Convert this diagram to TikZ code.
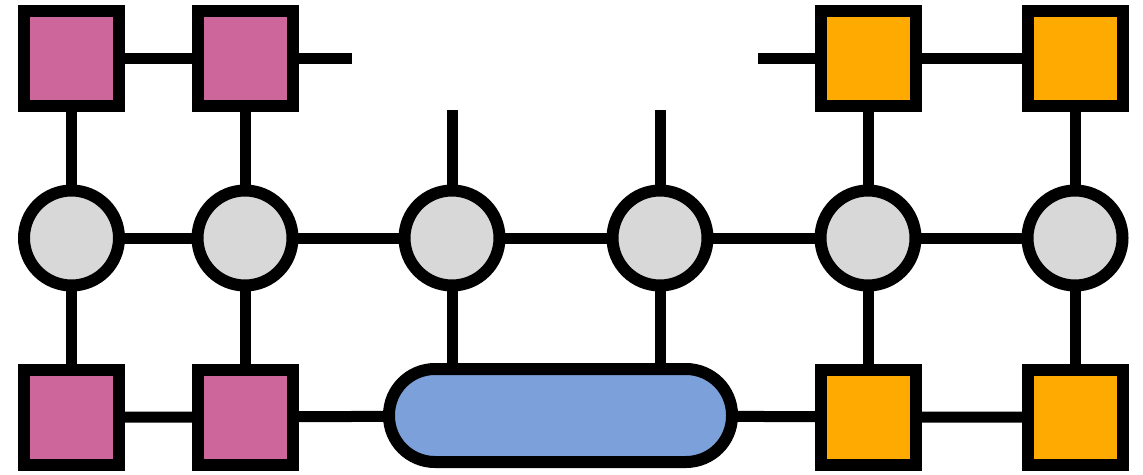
\documentclass[tikz,border=0pt]{standalone}
\usetikzlibrary{backgrounds}
\definecolor{pinkfill}{RGB}{204,102,155}
\definecolor{orangefill}{RGB}{255,170,0}
\definecolor{bluefill}{RGB}{124,160,218}
\definecolor{grayfill}{RGB}{216,216,216}
\begin{document}
\begin{tikzpicture}[x=1pt,y=-1pt,
  box/.style={draw=black,line width=12pt,minimum size=95pt,inner sep=0pt,rectangle},
  pinkbox/.style={box,fill=pinkfill},
  orangebox/.style={box,fill=orangefill},
  site/.style={draw=black,line width=12pt,circle,minimum size=95pt,inner sep=0pt,fill=grayfill},
  pill/.style={draw=black,line width=12pt,fill=bluefill,rectangle,rounded corners=46pt,minimum width=343pt,minimum height=93pt,inner sep=0pt},
  bond/.style={draw=black,line width=11pt}]
\useasboundingbox (0,0) rectangle (1143,474);
% top row
\node[pinkbox] (pt1) at (71.5,58) {};
\node[pinkbox] (pt2) at (245,58) {};
\node[orangebox] (ot1) at (868,58) {};
\node[orangebox] (ot2) at (1075,58) {};
% middle row
\node[site] (c1) at (71.5,238) {};
\node[site] (c2) at (245,238) {};
\node[site] (c3) at (452,238) {};
\node[site] (c4) at (660,238) {};
\node[site] (c5) at (868,238) {};
\node[site] (c6) at (1075,238) {};
% bottom row
\node[pinkbox] (pb1) at (71.5,417) {};
\node[pinkbox] (pb2) at (245,417) {};
\node[pill] (op) at (560.5,415.5) {};
\node[orangebox] (ob1) at (868,417) {};
\node[orangebox] (ob2) at (1075,417) {};
% open legs
\coordinate (lr) at (352,58);
\coordinate (ll) at (758,58);
\coordinate (u3) at (452,110);
\coordinate (u4) at (660,110);
\begin{scope}[on background layer]
  \draw[bond] (pt1.center) -- (pt2.center) -- (lr);
  \draw[bond] (ll) -- (ot1.center) -- (ot2.center);
  \draw[bond] (c1.center) -- (c2.center) -- (c3.center) -- (c4.center) -- (c5.center) -- (c6.center);
  \draw[bond] (pb1.center) -- (pb2.center) -- (op.center) -- (ob1.center) -- (ob2.center);
  \draw[bond] (pt1.center) -- (c1.center) -- (pb1.center);
  \draw[bond] (pt2.center) -- (c2.center) -- (pb2.center);
  \draw[bond] (ot1.center) -- (c5.center) -- (ob1.center);
  \draw[bond] (ot2.center) -- (c6.center) -- (ob2.center);
  \draw[bond] (u3) -- (c3.center) -- (c3 |- op.center);
  \draw[bond] (u4) -- (c4.center) -- (c4 |- op.center);
\end{scope}
\end{tikzpicture}
\end{document}
